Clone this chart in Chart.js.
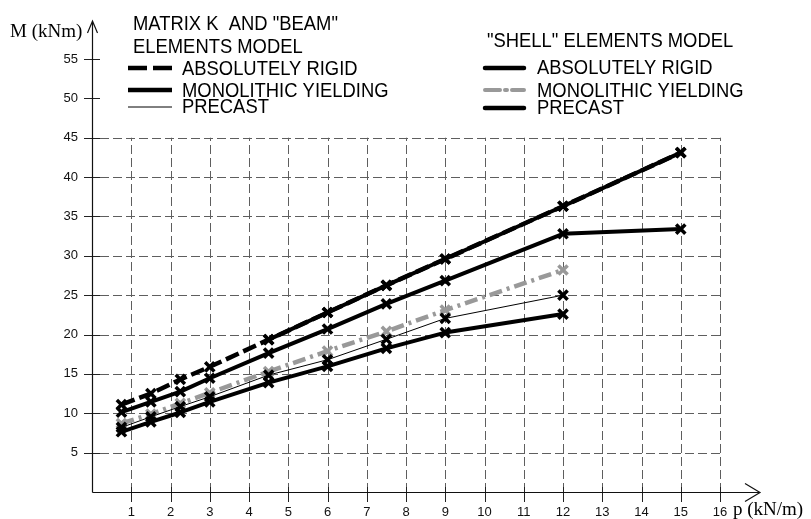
<!DOCTYPE html>
<html>
<head>
<meta charset="utf-8">
<title>M - p</title>
<script src="https://cdn.jsdelivr.net/npm/chart.js@4.4.0/dist/chart.umd.min.js"></script>
<style>
  html, body { margin: 0; padding: 0; background: #fff; }
  #wrap { position: relative; width: 811px; height: 519px; }
</style>
</head>
<body>
<div id="wrap"><canvas id="momentChart" width="811" height="519"></canvas></div>
<script>
// load steps p (kN/m)
const pLoads = [0.75, 1.5, 2.25, 3, 4.5, 6, 7.5, 9, 12, 15];

// bending moment M (kNm) - matrix K / "beam" model
const beamRigid   = [11.1, 12.5, 14.3, 15.9, 19.35, 22.8, 26.25, 29.6, 36.3, 43.1];
const beamMono    = [10.15, 11.45, 12.75, 14.45, 17.65, 20.7, 23.9, 26.85, 32.8, 33.4];
const beamPrecast = [8.2, 9.55, 10.85, 12.1, 14.85, 16.8, 19.4, 22.05, 25.0];

// "shell" model
const shellRigidFrom = 4; // solid curve starts at p = 4.5
const shellRigid   = [19.35, 22.8, 26.25, 29.6, 36.3, 43.1];
const shellMono    = [8.7, 9.9, 11.25, 12.6, 15.3, 17.9, 20.4, 23.1, 28.2];
const shellPrecast = [7.65, 8.9, 10.1, 11.45, 13.9, 15.95, 18.25, 20.25, 22.6];

const xTicks = [1, 2, 3, 4, 5, 6, 7, 8, 9, 10, 11, 12, 13, 14, 15, 16];
const yTicks = [5, 10, 15, 20, 25, 30, 35, 40, 45, 50, 55];
const gridTopM = 45;

const legendLeftTitle  = ['MATRIX K  AND "BEAM"', 'ELEMENTS MODEL'];
const legendRightTitle = ['"SHELL" ELEMENTS MODEL'];
const legendLabels = ['ABSOLUTELY RIGID', 'MONOLITHIC YIELDING', 'PRECAST'];

const BLACK = '#000', GREY = '#999';

function pts(vals, from) {
  from = from || 0;
  return vals.map((v, i) => ({ x: pLoads[i + from], y: v }));
}

function series(label, vals, color, width, dash, from) {
  return {
    label, data: pts(vals, from),
    borderColor: color, backgroundColor: color,
    borderWidth: width, borderDash: dash || [],
    pointStyle: 'crossRot', pointRadius: 6.5, pointBorderWidth: 3.5,
    pointBorderColor: color, tension: 0, fill: false
  };
}

const sansFont = '"Liberation Sans", Arial, sans-serif';
const serifFont = '"Liberation Serif", "Times New Roman", serif';

function label(ctx, txt, x, y) {
  ctx.save();
  ctx.translate(x, y);
  ctx.scale(0.92, 1);
  ctx.fillText(txt, 0, 0);
  ctx.restore();
}

function sample(ctx, x1, x2, y, color, width, dash, cap) {
  ctx.save();
  ctx.strokeStyle = color; ctx.lineWidth = width;
  ctx.setLineDash(dash || []); ctx.lineCap = cap || 'butt';
  ctx.beginPath(); ctx.moveTo(x1, y); ctx.lineTo(x2, y); ctx.stroke();
  ctx.restore();
}

// dashed grid, tick marks and arrowed axes
const frame = {
  id: 'frame',
  beforeDatasetsDraw(chart) {
    const { ctx, scales: { x, y } } = chart;
    const x0 = x.getPixelForValue(0), xEnd = x.getPixelForValue(16);
    const y0 = y.getPixelForValue(0), yTop = y.getPixelForValue(gridTopM);
    ctx.save();
    ctx.strokeStyle = '#5e5e5e'; ctx.lineWidth = 1; ctx.setLineDash([9, 4]);
    xTicks.forEach(v => {
      const px = Math.round(x.getPixelForValue(v)) + 0.5;
      ctx.beginPath(); ctx.moveTo(px, y0); ctx.lineTo(px, yTop); ctx.stroke();
    });
    yTicks.filter(v => v <= gridTopM).forEach(v => {
      const py = Math.round(y.getPixelForValue(v)) + 0.5;
      ctx.beginPath(); ctx.moveTo(x0 + 8, py); ctx.lineTo(xEnd, py); ctx.stroke();
    });
    ctx.setLineDash([]); ctx.strokeStyle = '#222';
    yTicks.forEach(v => {
      const py = Math.round(y.getPixelForValue(v)) + 0.5;
      ctx.beginPath(); ctx.moveTo(x0 - 8, py); ctx.lineTo(x0 + 8, py); ctx.stroke();
    });
    xTicks.forEach(v => {
      const px = Math.round(x.getPixelForValue(v)) + 0.5;
      ctx.beginPath(); ctx.moveTo(px, y0 - 5); ctx.lineTo(px, y0 + 10); ctx.stroke();
    });
    // axes
    ctx.strokeStyle = '#111'; ctx.lineWidth = 1.2;
    const ax = Math.round(x0) + 0.5, ay = Math.round(y0) + 0.5;
    ctx.beginPath();
    ctx.moveTo(ax, ay); ctx.lineTo(ax, 21);
    ctx.moveTo(ax - 5, 33); ctx.lineTo(ax, 21); ctx.lineTo(ax + 5, 33);
    ctx.moveTo(ax, ay); ctx.lineTo(760, ay);
    ctx.moveTo(745, ay - 9); ctx.lineTo(760, ay); ctx.lineTo(745, ay + 9);
    ctx.stroke();
    ctx.restore();
  },
  afterDraw(chart) {
    const { ctx } = chart;
    ctx.save();
    ctx.fillStyle = '#000';
    ctx.textBaseline = 'alphabetic';
    ctx.font = '19px ' + serifFont;
    ctx.fillText('M (kNm)', 10, 37);
    ctx.fillText('p (kN/m)', 733, 515);

    ctx.font = '20px ' + sansFont;
    label(ctx, legendLeftTitle[0], 133, 30);
    label(ctx, legendLeftTitle[1], 133, 53);
    label(ctx, legendLabels[0], 182, 75);
    label(ctx, legendLabels[1], 182, 97);
    label(ctx, legendLabels[2], 182, 113);

    label(ctx, legendRightTitle[0], 487, 47);
    label(ctx, legendLabels[0], 537, 74);
    label(ctx, legendLabels[1], 537, 97);
    label(ctx, legendLabels[2], 537, 114);

    sample(ctx, 128, 172, 68, BLACK, 4.5, [19, 6]);
    sample(ctx, 128, 172, 90, BLACK, 4.5);
    sample(ctx, 128, 172, 107, BLACK, 1);
    sample(ctx, 485, 524, 68, BLACK, 4.5, [], 'round');
    sample(ctx, 485, 524, 90, GREY, 4, [15, 5, 2, 5], 'round');
    sample(ctx, 485, 524, 108, BLACK, 4.5, [], 'round');
    ctx.restore();
  }
};

const tickFont = { family: sansFont, size: 13 };

new Chart(document.getElementById('momentChart'), {
  type: 'line',
  data: {
    datasets: [
      series('SHELL PRECAST', shellPrecast, BLACK, 4),
      series('MATRIX K PRECAST', beamPrecast, BLACK, 1),
      series('SHELL MONOLITHIC YIELDING', shellMono, GREY, 4.5, [13, 5, 3, 5]),
      series('MATRIX K MONOLITHIC YIELDING', beamMono, BLACK, 4),
      series('SHELL ABSOLUTELY RIGID', shellRigid, BLACK, 4, [], shellRigidFrom),
      series('MATRIX K ABSOLUTELY RIGID', beamRigid, BLACK, 4.5, [14, 5])
    ]
  },
  options: {
    responsive: false,
    animation: false,
    devicePixelRatio: 1,
    layout: { padding: { left: 52, right: 91, top: 59, bottom: 0 } },
    plugins: { legend: { display: false }, tooltip: { enabled: false } },
    elements: { line: { borderJoinStyle: 'round' } },
    scales: {
      x: {
        type: 'linear', min: 0, max: 16,
        grid: { display: false, drawTicks: false }, border: { display: false },
        ticks: {
          stepSize: 1, autoSkip: false, maxRotation: 0, padding: 13,
          color: '#111', font: tickFont,
          callback: v => (v === 0 ? '' : v)
        },
        afterFit: s => { s.height = 27; }
      },
      y: {
        type: 'linear', min: 0, max: 55,
        grid: { display: false, drawTicks: false }, border: { display: false },
        ticks: {
          stepSize: 5, padding: 14, color: '#111', font: tickFont,
          callback: v => (v === 0 ? '' : v)
        },
        afterFit: s => { s.width = 40; }
      }
    }
  },
  plugins: [frame]
});
</script>
</body>
</html>
